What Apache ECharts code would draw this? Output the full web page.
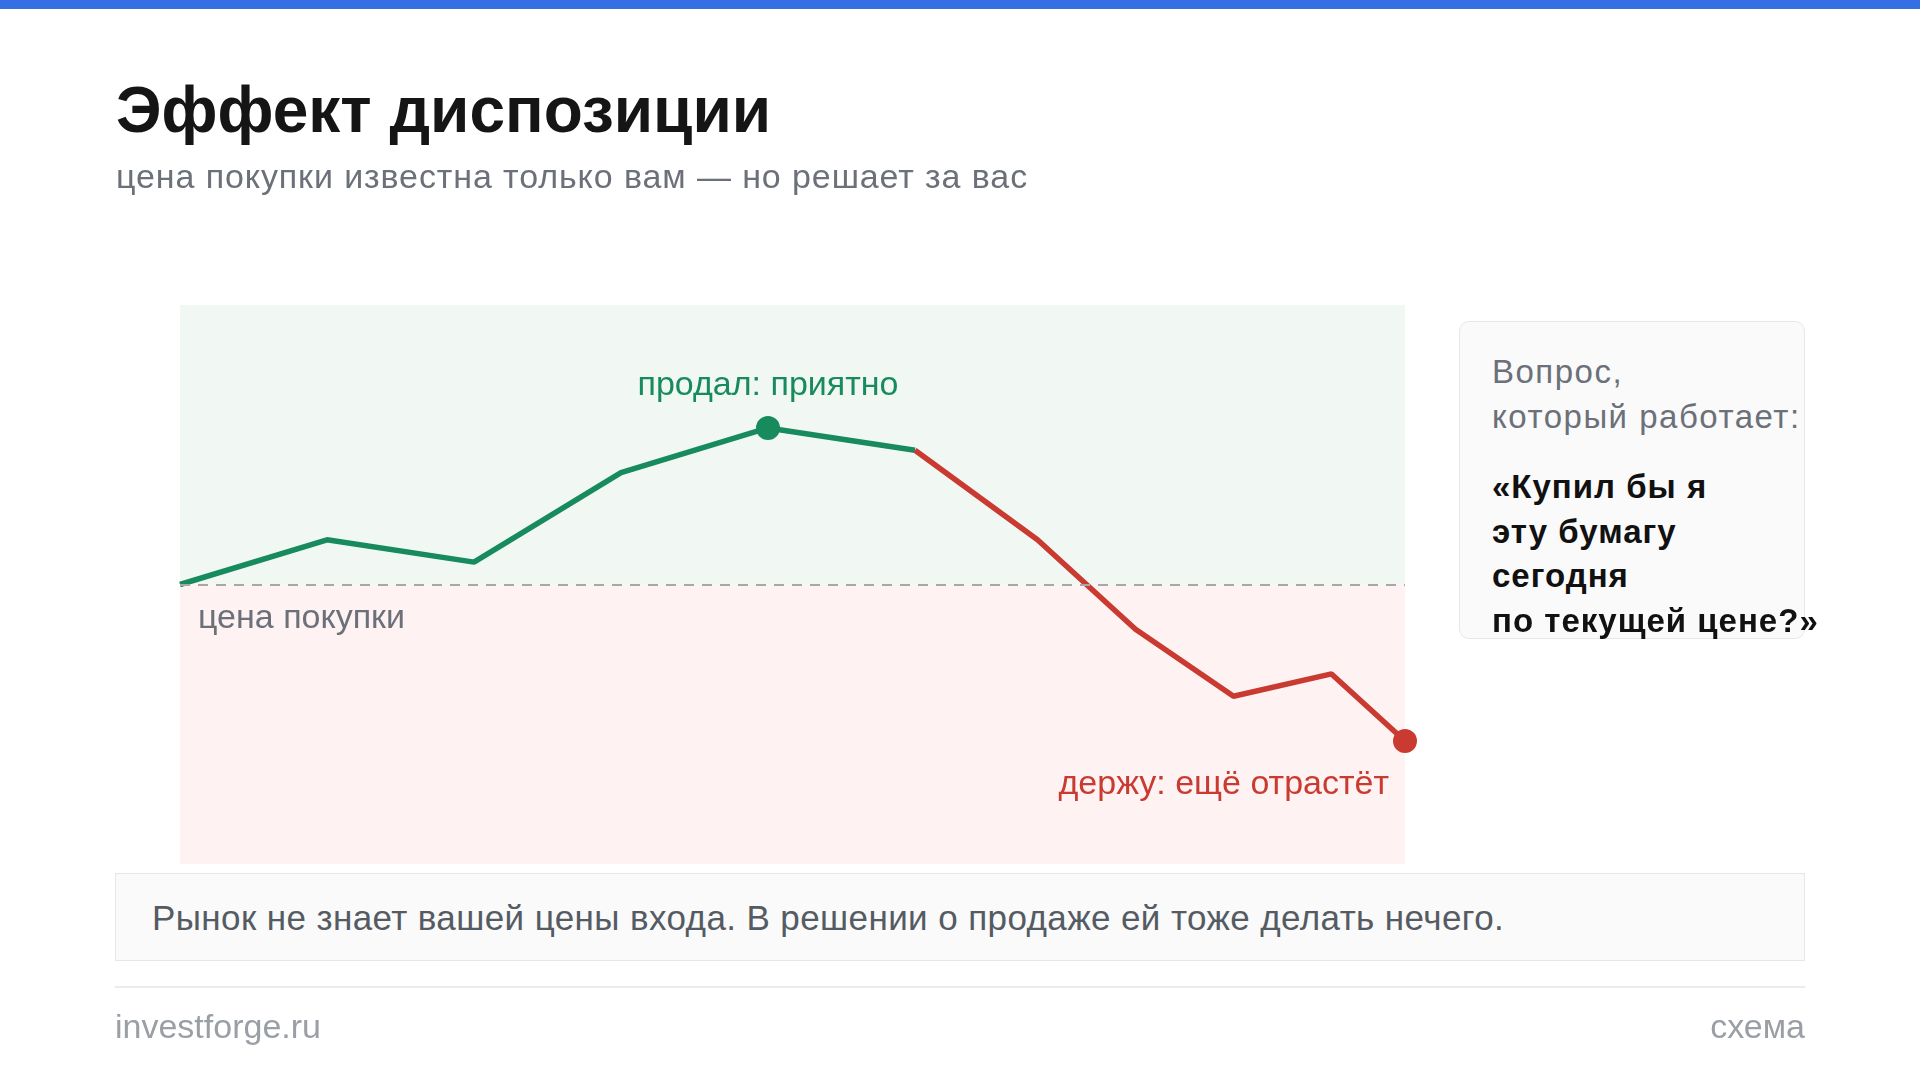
<!DOCTYPE html>
<html>
<head>
<meta charset="utf-8">
<script src="https://cdn.jsdelivr.net/npm/echarts@6/dist/echarts.min.js"></script>
<style>
  html, body { margin: 0; width: 1920px; height: 1080px; background: #fff; overflow: hidden; }
  body { font-family: "Liberation Sans", Arial, Helvetica, sans-serif; position: relative; }
  .abs { position: absolute; white-space: nowrap; }
  #topbar { left: 0; top: 0; width: 1920px; height: 9px; background: #3470e4; }
  #title { left: 116px; top: 78px; font-size: 64px; line-height: 64px; font-weight: bold; color: #151515; }
  #subtitle { left: 116px; top: 159px; font-size: 34px; line-height: 34px; letter-spacing: 0.9px; color: #6b7079; }
  #chart { left: 0; top: 0; width: 1920px; height: 1080px; }
  #card { left: 1459px; top: 321px; width: 346px; height: 318px; background: #fafafa; border: 1px solid #e6e7e8; border-radius: 10px; box-sizing: border-box; }
  .q1 { left: 1492px; font-size: 33px; line-height: 33px; letter-spacing: 1.5px; color: #6b7079; }
  .q2 { left: 1492px; font-size: 33px; line-height: 33px; letter-spacing: 1px; font-weight: bold; color: #111; }
  #note { left: 115px; top: 873px; width: 1690px; height: 88px; background: #fafafa; border: 1px solid #e6e7e8; box-sizing: border-box; }
  #noteText { left: 152px; top: 900px; font-size: 35px; line-height: 35px; letter-spacing: 0.4px; color: #555b63; }
  #rule { left: 115px; top: 986px; width: 1690px; height: 2px; background: #ececec; }
  #site { left: 115px; top: 1009px; font-size: 34px; line-height: 34px; color: #9a9fa5; }
  #kind { right: 115px; top: 1009px; font-size: 34px; line-height: 34px; color: #9a9fa5; }
</style>
</head>
<body>
<div id="chart" class="abs"></div>
<div id="topbar" class="abs"></div>
<div id="title" class="abs">Эффект диспозиции</div>
<div id="subtitle" class="abs">цена покупки известна только вам — но решает за вас</div>
<div id="card" class="abs"></div>
<div class="abs q1" style="top:355px">Вопрос,</div>
<div class="abs q1" style="top:400px">который работает:</div>
<div class="abs q2" style="top:470px">«Купил бы я</div>
<div class="abs q2" style="top:515px">эту бумагу</div>
<div class="abs q2" style="top:559px">сегодня</div>
<div class="abs q2" style="top:604px">по текущей цене?»</div>
<div id="note" class="abs"></div>
<div id="noteText" class="abs">Рынок не знает вашей цены входа. В решении о продаже ей тоже делать нечего.</div>
<div id="rule" class="abs"></div>
<div id="site" class="abs">investforge.ru</div>
<div id="kind" class="abs">схема</div>

<script type="text/javascript">
	// время (условное) и цена бумаги
	var times = [0, 12, 24, 36, 48, 60, 70, 78, 86, 94, 100];
	var prices = [50, 58, 54, 70, 78, 74, 58, 42, 30, 34, 22];
	var buyPrice = 50;
	var sellIdx = 4;     // точка продажи
	var turnIdx = 5;     // дальше линия красная
	var lastIdx = times.length - 1;

	var green = '#178a5e';
	var red = '#c93a31';

	var greenData = [], redData = [];
	for (var i = 0; i < times.length; i++) {
		if (i <= turnIdx) greenData.push([times[i], prices[i]]);
		if (i >= turnIdx) redData.push([times[i], prices[i]]);
	}

	var dom = document.getElementById('chart');
	var myChart = echarts.init(dom);
	var option = {
		animation: false,
		grid: { left: 180, top: 305, width: 1225, height: 559 },
		xAxis: { type: 'value', min: 0, max: 100, show: false },
		yAxis: { type: 'value', min: 0, max: 100, show: false },
		series: [
			{
				type: 'line',
				data: greenData,
				symbol: 'none',
				lineStyle: { color: green, width: 5.5 },
				z: 3,
				markArea: {
					silent: true,
					data: [
						[{ coord: [0, buyPrice], itemStyle: { color: '#f1f8f4' } }, { coord: [100, 100] }],
						[{ coord: [0, 0], itemStyle: { color: '#fef2f2' } }, { coord: [100, buyPrice] }]
					]
				},
				markLine: {
					silent: true,
					symbol: 'none',
					lineStyle: { color: '#a8a8a8', width: 2, type: [10, 8] },
					label: {
						position: 'insideStartBottom',
						distance: [18, 17],
						formatter: 'цена покупки',
						color: '#6b7079',
						fontSize: 34,
						fontFamily: 'Liberation Sans'
					},
					data: [{ yAxis: buyPrice }]
				}
			},
			{
				type: 'line',
				data: redData,
				symbol: 'none',
				lineStyle: { color: red, width: 5.5 },
				z: 3
			},
			{
				type: 'scatter',
				symbolSize: 24,
				z: 4,
				itemStyle: { opacity: 1 },
				data: [
					{
						value: [times[sellIdx], prices[sellIdx]],
						itemStyle: { color: green, opacity: 1 },
						label: {
							show: true, position: 'top', distance: 13,
							formatter: 'продал: приятно', color: green,
							fontSize: 34, fontFamily: 'Liberation Sans'
						}
					},
					{
						value: [times[lastIdx], prices[lastIdx]],
						itemStyle: { color: red, opacity: 1 },
						label: {
							show: true, position: 'bottom', distance: 15, align: 'right',
							offset: [-16, 0],
							formatter: 'держу: ещё отрастёт', color: red,
							fontSize: 34, fontFamily: 'Liberation Sans'
						}
					}
				]
			}
		]
	};
	myChart.setOption(option, true);
</script>
</body>
</html>
